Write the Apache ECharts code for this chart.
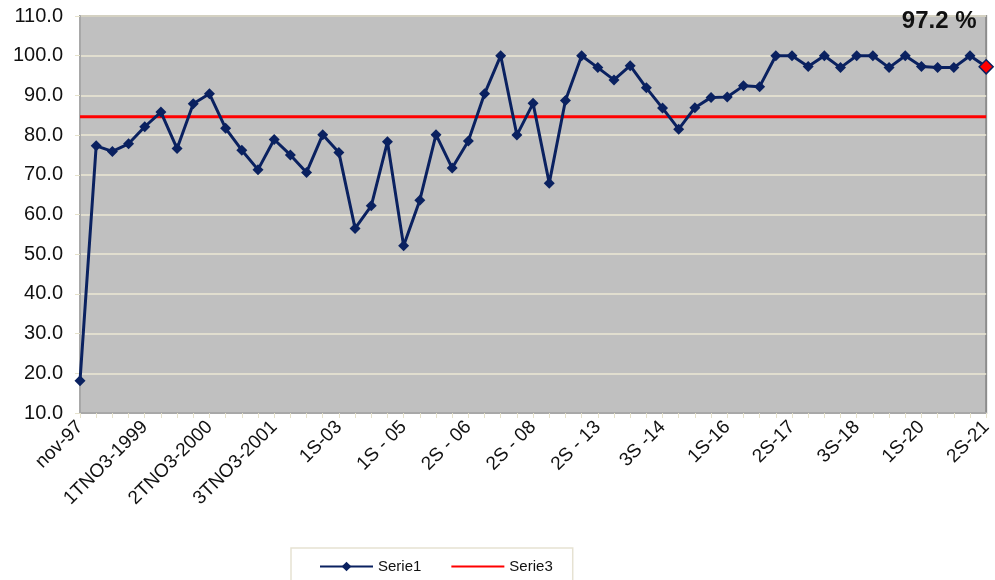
<!DOCTYPE html>
<html>
<head>
<meta charset="utf-8">
<script src="https://cdn.jsdelivr.net/npm/echarts@6/dist/echarts.min.js"></script>
<style>
html,body{margin:0;padding:0;background:#fff;}
#chart{width:995px;height:580px;}
</style>
</head>
<body>
<div id="chart"></div>
<script>
const categories = [
  'nov-97','','','',
  '1TNO3-1999','','','',
  '2TNO3-2000','','','',
  '3TNO3-2001','','','',
  '1S-03','','','',
  '1S - 05','','','',
  '2S - 06','','','',
  '2S - 08','','','',
  '2S - 13','','','',
  '3S -14','','','',
  '1S-16','','','',
  '2S-17','','','',
  '3S-18','','','',
  '1S-20','','','',
  '2S-21'
];
const serie1 = [
  18.1, 77.3, 75.9, 77.8, 82.1, 85.8, 76.6, 87.9, 90.4, 81.7,
  76.2, 71.3, 78.9, 75.0, 70.6, 80.1, 75.6, 56.5, 62.2, 78.3,
  52.1, 63.6, 80.1, 71.7, 78.5, 90.4, 100.0, 80.0, 88.0, 67.9,
  88.7, 100.0, 97.0, 93.9, 97.5, 91.9, 86.8, 81.5, 86.9, 89.5,
  89.6, 92.4, 92.2, 100.0, 100.0, 97.3, 100.0, 97.0, 100.0, 100.0,
  97.0, 100.0, 97.3, 97.0, 97.0, 100.0, 97.2
];
const serie3Value = 84.6;
const serie3 = categories.map(() => serie3Value);
const yTicks = { min: 10, max: 110, interval: 10 };

const navy = '#0A2160';
const font = 'Liberation Sans, Arial, sans-serif';
const lastIdx = serie1.length - 1;
const serie1Data = serie1.map((v, i) => i === lastIdx ? {
  value: v,
  symbolSize: 14,
  itemStyle: { color: '#FF0000', borderColor: navy, borderWidth: 1.5 },
  label: {
    show: true, position: 'top', offset: [-47, -21],
    formatter: p => p.value.toFixed(1) + ' %',
    fontFamily: font,
    fontWeight: 'bold', fontSize: 24, color: '#111'
  }
} : v);

const chart = echarts.init(document.getElementById('chart'), null, { renderer: 'canvas' });
chart.setOption({
  animation: false,
  backgroundColor: '#ffffff',
  textStyle: { fontFamily: font },
  grid: {
    left: 80, right: 7, top: 16, bottom: 167,
    show: true, backgroundColor: '#C0C0C0', borderColor: '#8C8C8C', borderWidth: 2,
    containLabel: false
  },
  legend: {
    left: 291, top: 548,
    padding: [11, 20, 20, 28],
    borderColor: '#E6E2D2', borderWidth: 1.5,
    itemWidth: 53, itemHeight: 12, itemGap: 29,
    textStyle: { fontSize: 15, color: '#111', fontFamily: font },
    data: [
      { name: 'Serie1' },
      { name: 'Serie3', itemStyle: { opacity: 0 } }
    ]
  },
  xAxis: {
    type: 'category',
    data: categories,
    boundaryGap: false,
    axisLine: { show: true, lineStyle: { color: '#A8A8A8', width: 2 } },
    axisTick: { show: true, interval: 0, length: 5, lineStyle: { color: '#E6E2CC', width: 1 } },
    axisLabel: {
      interval: 0, rotate: 45, margin: 11,
      fontSize: 19, color: '#111',
      fontFamily: font
    },
    splitLine: { show: false }
  },
  yAxis: {
    type: 'value',
    min: yTicks.min, max: yTicks.max, interval: yTicks.interval,
    axisLine: { show: true, lineStyle: { color: '#A8A8A8', width: 2 } },
    axisTick: { show: true, length: 5, lineStyle: { color: '#E6E2CC', width: 1 } },
    axisLabel: {
      margin: 17, fontSize: 20, color: '#111',
      fontFamily: font,
      formatter: v => v.toFixed(1)
    },
    splitLine: { show: true, lineStyle: { color: '#ECE8D4', width: 1.5 } }
  },
  series: [
    {
      name: 'Serie1', type: 'line', data: serie1Data,
      symbol: 'diamond', symbolSize: 11,
      lineStyle: { color: navy, width: 3 },
      itemStyle: { color: navy },
      z: 3
    },
    {
      name: 'Serie3', type: 'line', data: serie3,
      symbol: 'none', showSymbol: false,
      lineStyle: { color: '#FF0000', width: 3 },
      itemStyle: { color: '#FF0000' },
      z: 2
    }
  ]
});
</script>
</body>
</html>
